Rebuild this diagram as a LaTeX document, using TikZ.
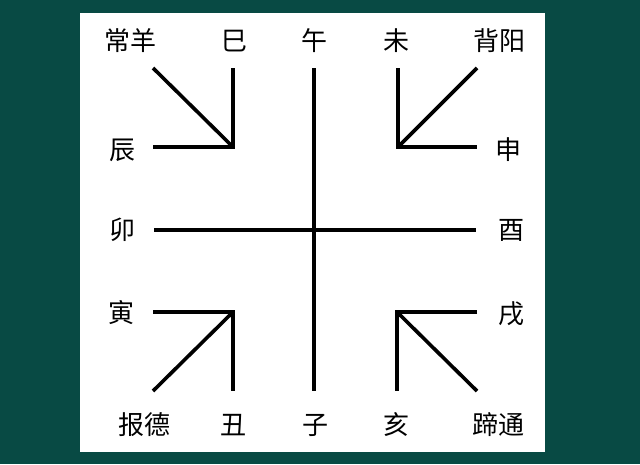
\documentclass[tikz,border=0pt]{standalone}
\usepackage{fontspec}
\newfontfamily\cjk{Noto Sans CJK SC}
\definecolor{bgteal}{RGB}{8,74,68}
\begin{document}
\begin{tikzpicture}[x=1pt,y=-1pt,
  lbl/.style={font=\cjk\fontsize{26}{26}\selectfont, inner sep=0pt, anchor=center},
  bar/.style={line width=3.6pt, black}]
\useasboundingbox (0,0) rectangle (640,464);
\fill[bgteal] (0,0) rectangle (640,464);
\fill[white] (80,13) rectangle (545,452);
% labels
\node[lbl] (changyang) at (130,41) {常羊};
\node[lbl] (si) at (234,41) {巳};
\node[lbl] (wu) at (314,41) {午};
\node[lbl] (wei) at (396,41) {未};
\node[lbl] (beiyang) at (499,41) {背阳};
\node[lbl] (chen) at (122,150) {辰};
\node[lbl] (shen) at (508,150) {申};
\node[lbl] (mao) at (122,230) {卯};
\node[lbl] (you) at (511,230) {酉};
\node[lbl] (yin) at (121,313) {寅};
\node[lbl] (xu) at (511,314) {戌};
\node[lbl] (baode) at (144,425) {报德};
\node[lbl] (chou) at (233,425) {丑};
\node[lbl] (zi) at (315,425) {子};
\node[lbl] (hai) at (396,425) {亥};
\node[lbl] (titong) at (498,425) {蹄通};
% coordinates
\coordinate (tlA) at (153,68);
\coordinate (tlB) at (233,68);
\coordinate (tlC) at (233,147);
\coordinate (tlD) at (153,147);
\coordinate (trA) at (398,68);
\coordinate (trB) at (477,68);
\coordinate (trC) at (398,147);
\coordinate (trD) at (477,147);
\coordinate (blA) at (153,312);
\coordinate (blC) at (233,312);
\coordinate (blB) at (233,391);
\coordinate (blD) at (153,391);
\coordinate (brA) at (477,312);
\coordinate (brC) at (397,312);
\coordinate (brB) at (397,391);
\coordinate (brD) at (477,391);
\coordinate (vT) at (314,68);
\coordinate (vB) at (314,391);
\coordinate (hL) at (154,230);
\coordinate (hR) at (476,230);
% lines
\draw[bar] (tlA) -- (tlC);
\draw[bar] (tlB) -- (tlC) -- (tlD);
\draw[bar] (trB) -- (trC);
\draw[bar] (trA) -- (trC) -- (trD);
\draw[bar] (blD) -- (blC);
\draw[bar] (blA) -- (blC) -- (blB);
\draw[bar] (brD) -- (brC);
\draw[bar] (brA) -- (brC) -- (brB);
\draw[bar] (vT) -- (vB);
\draw[bar] (hL) -- (hR);
\end{tikzpicture}
\end{document}
